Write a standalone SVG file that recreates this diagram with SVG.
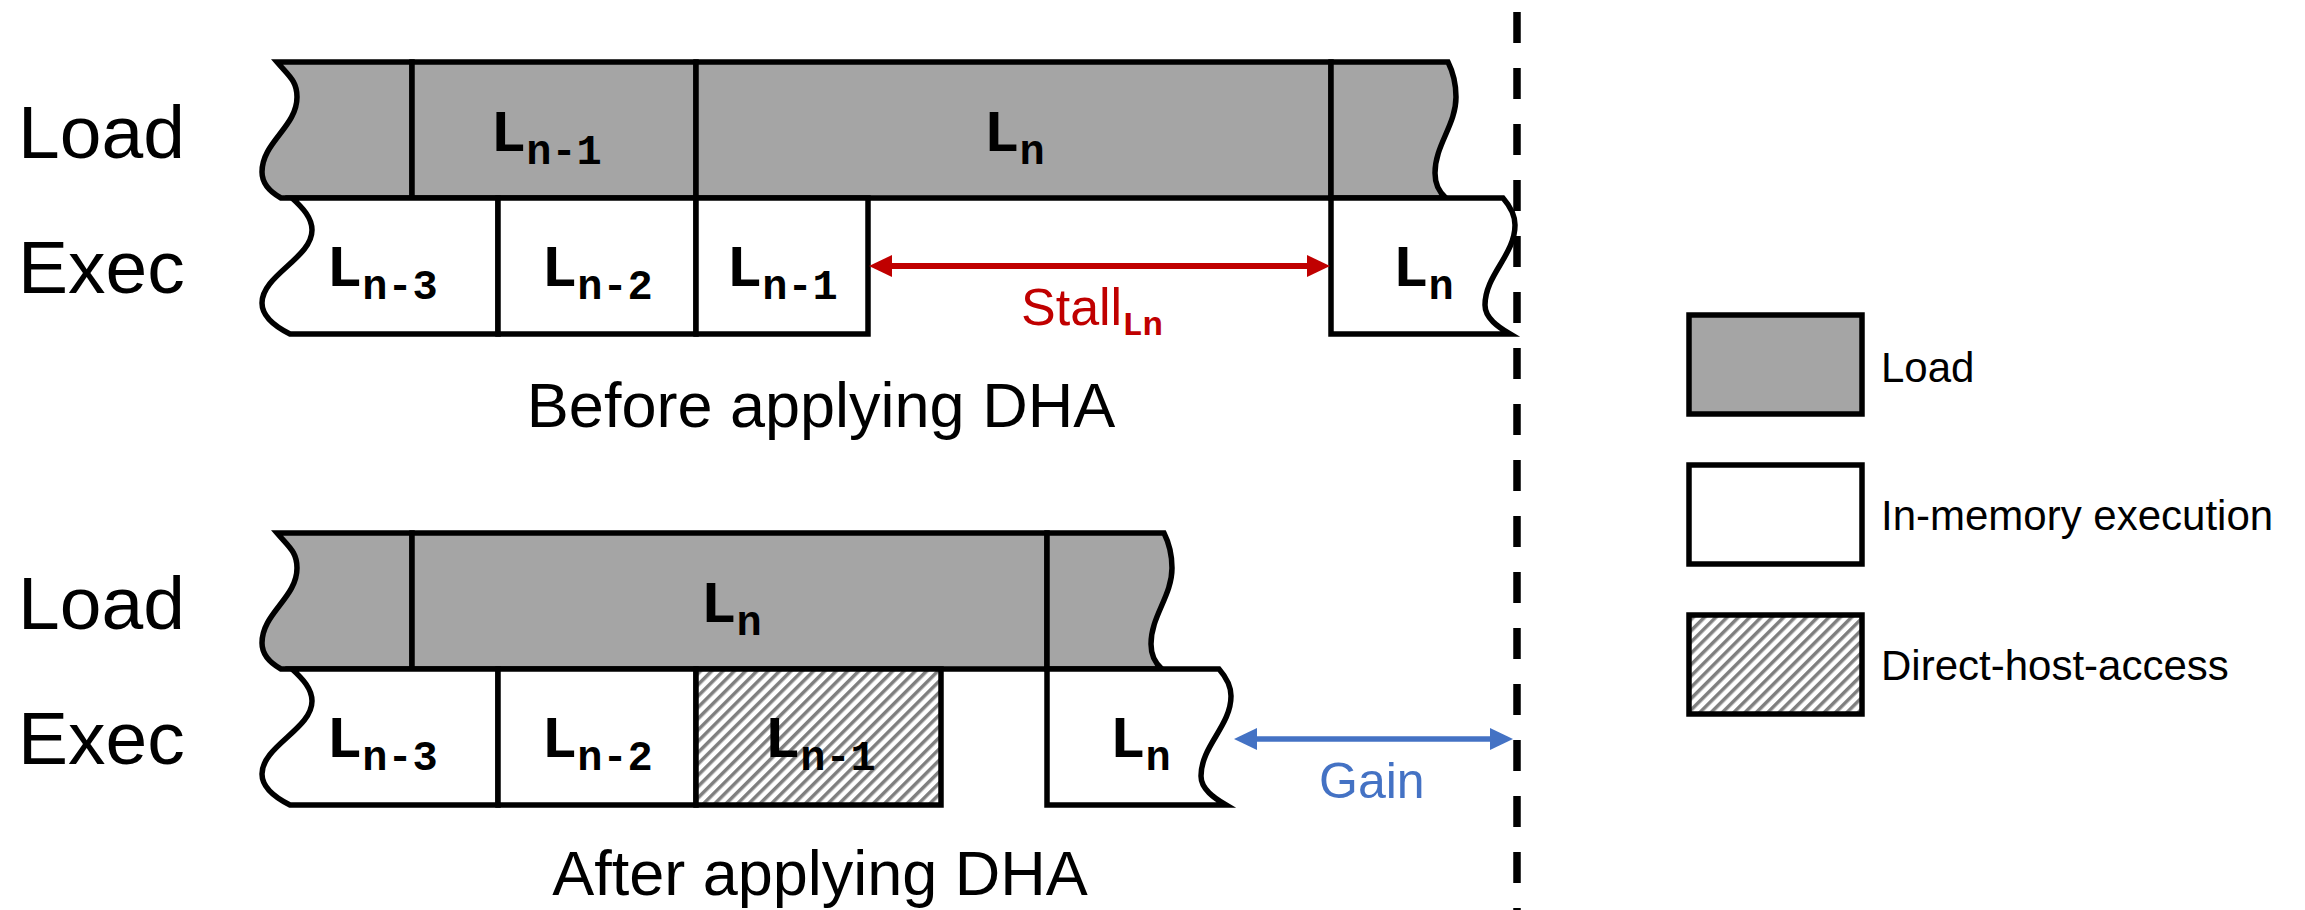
<svg xmlns="http://www.w3.org/2000/svg" width="2305" height="910" viewBox="0 0 2305 910">
<style>
.blk{stroke:#000;stroke-width:5.5;stroke-linejoin:miter}
.load{fill:#A5A5A5}
.exec{fill:#FFFFFF}
.dha{fill:url(#hatch)}
.row{font-family:"Liberation Sans",Arial,sans-serif;font-size:75px;fill:#000}
.cap{font-family:"Liberation Sans",Arial,sans-serif;font-size:63px;fill:#000;text-anchor:middle}
.leg{font-family:"Liberation Sans",Arial,sans-serif;font-size:42px;fill:#000}
.lbl{font-family:"Courier New","Liberation Mono",monospace;font-weight:bold;font-size:60px;fill:#000;text-anchor:middle}
.sub{font-size:42px}
</style>
<defs>
<pattern id="hatch" patternUnits="userSpaceOnUse" width="8" height="8" patternTransform="rotate(45)">
<rect width="8" height="8" fill="#FFFFFF"/>
<rect x="0" y="0" width="3.5" height="8" fill="#7F7F7F"/>
</pattern>
<marker id="ahR" markerUnits="userSpaceOnUse" markerWidth="24" markerHeight="24" refX="1" refY="11" orient="auto-start-reverse"><path d="M0,0 L23,11 L0,22 Z" fill="#C00000"/></marker>
<marker id="ahB" markerUnits="userSpaceOnUse" markerWidth="24" markerHeight="24" refX="1" refY="11" orient="auto-start-reverse"><path d="M0,0 L23,11 L0,22 Z" fill="#4472C4"/></marker>
</defs>
<rect width="2305" height="910" fill="#FFFFFF"/>

<g id="row-labels">
<text class="row" x="18" y="158">Load</text>
<text class="row" x="18" y="293">Exec</text>
<text class="row" x="18" y="629">Load</text>
<text class="row" x="18" y="764">Exec</text>
</g>

<g id="before">
<g id="b-load-prev"><path class="blk load" d="M277,62 C289,76 297,81 297,97 C297,127 262,142 262,172 C262,185 272,193 281,198 L412,198 L412,62 Z"/></g>
<g id="b-load-n1"><rect class="blk load" x="412" y="62" width="284" height="136"/><text class="lbl" x="546" y="151">L<tspan class="sub" dy="13">n-1</tspan></text></g>
<g id="b-load-n"><rect class="blk load" x="696" y="62" width="635" height="136"/><text class="lbl" x="1014" y="151">L<tspan class="sub" dy="13">n</tspan></text></g>
<g id="b-load-next"><path class="blk load" d="M1331,62 L1448,62 C1453,72 1456,84 1456,97 C1456,125 1435,145 1435,173 C1435,185 1440,193 1446,198 L1331,198 Z"/></g>
<g id="b-exec-n3"><path class="blk exec" d="M292,198 C303,208 312,218 312,230 C312,258 262,275 262,303 C262,318 278,328 290,334 L498,334 L498,198 Z"/><text class="lbl" x="382" y="286">L<tspan class="sub" dy="13">n-3</tspan></text></g>
<g id="b-exec-n2"><rect class="blk exec" x="498" y="198" width="198" height="136"/><text class="lbl" x="597" y="286">L<tspan class="sub" dy="13">n-2</tspan></text></g>
<g id="b-exec-n1"><rect class="blk exec" x="696" y="198" width="172" height="136"/><text class="lbl" x="782" y="286">L<tspan class="sub" dy="13">n-1</tspan></text></g>
<g id="b-exec-n"><path class="blk exec" d="M1331,198 L1503,198 C1510,206 1515,215 1515,225 C1515,255 1485,275 1485,305 C1485,318 1498,327 1510,334 L1331,334 Z"/><text class="lbl" x="1423" y="286">L<tspan class="sub" dy="13">n</tspan></text></g>
<text class="cap" x="821" y="427">Before applying DHA</text>
</g>

<g id="after">
<g id="a-load-prev"><path class="blk load" d="M277,533 C289,547 297,552 297,568 C297,598 262,613 262,643 C262,656 272,664 281,669 L412,669 L412,533 Z"/></g>
<g id="a-load-n"><rect class="blk load" x="412" y="533" width="635" height="136"/><text class="lbl" x="731" y="622">L<tspan class="sub" dy="13">n</tspan></text></g>
<g id="a-load-next"><path class="blk load" d="M1047,533 L1164,533 C1169,543 1172,555 1172,568 C1172,596 1151,616 1151,644 C1151,656 1156,664 1162,669 L1047,669 Z"/></g>
<g id="a-exec-n3"><path class="blk exec" d="M292,669 C303,679 312,689 312,701 C312,729 262,746 262,774 C262,789 278,799 290,805 L498,805 L498,669 Z"/><text class="lbl" x="382" y="757">L<tspan class="sub" dy="13">n-3</tspan></text></g>
<g id="a-exec-n2"><rect class="blk exec" x="498" y="669" width="198" height="136"/><text class="lbl" x="597" y="757">L<tspan class="sub" dy="13">n-2</tspan></text></g>
<g id="a-exec-n1"><rect class="blk dha" x="696" y="669" width="245" height="136"/><text class="lbl" x="820" y="757">L<tspan class="sub" dy="13">n-1</tspan></text></g>
<g id="a-exec-n"><path class="blk exec" d="M1047,669 L1219,669 C1226,677 1231,686 1231,696 C1231,726 1201,746 1201,776 C1201,789 1214,798 1226,805 L1047,805 Z"/><text class="lbl" x="1140" y="757">L<tspan class="sub" dy="13">n</tspan></text></g>
<text class="cap" x="820" y="895">After applying DHA</text>
</g>

<g id="deadline">
<line x1="1517" y1="12" x2="1517" y2="920" stroke="#000" stroke-width="7.5" stroke-dasharray="31 25"/>
</g>

<g id="connectors">
<line id="stall-arrow" x1="891" y1="266" x2="1308" y2="266" stroke="#C00000" stroke-width="6" marker-start="url(#ahR)" marker-end="url(#ahR)"/>
<text x="1021" y="325" font-family="Liberation Sans, Arial, sans-serif" font-size="52" fill="#C00000">Stall<tspan font-family="Courier New, Liberation Mono, monospace" font-weight="bold" font-size="34" dy="10">Ln</tspan></text>
<line id="gain-arrow" x1="1256" y1="739" x2="1491" y2="739" stroke="#4472C4" stroke-width="5.5" marker-start="url(#ahB)" marker-end="url(#ahB)"/>
<text x="1319" y="798" font-family="Liberation Sans, Arial, sans-serif" font-size="50" fill="#4472C4">Gain</text>
</g>

<g id="legend">
<g id="leg-load"><rect class="blk load" x="1689" y="315" width="173" height="99"/><text class="leg" x="1881" y="382">Load</text></g>
<g id="leg-exec"><rect class="blk exec" x="1689" y="465" width="173" height="99"/><text class="leg" x="1881" y="530">In-memory execution</text></g>
<g id="leg-dha"><rect class="blk dha" x="1689" y="615" width="173" height="99"/><text class="leg" x="1881" y="680">Direct-host-access</text></g>
</g>
</svg>
